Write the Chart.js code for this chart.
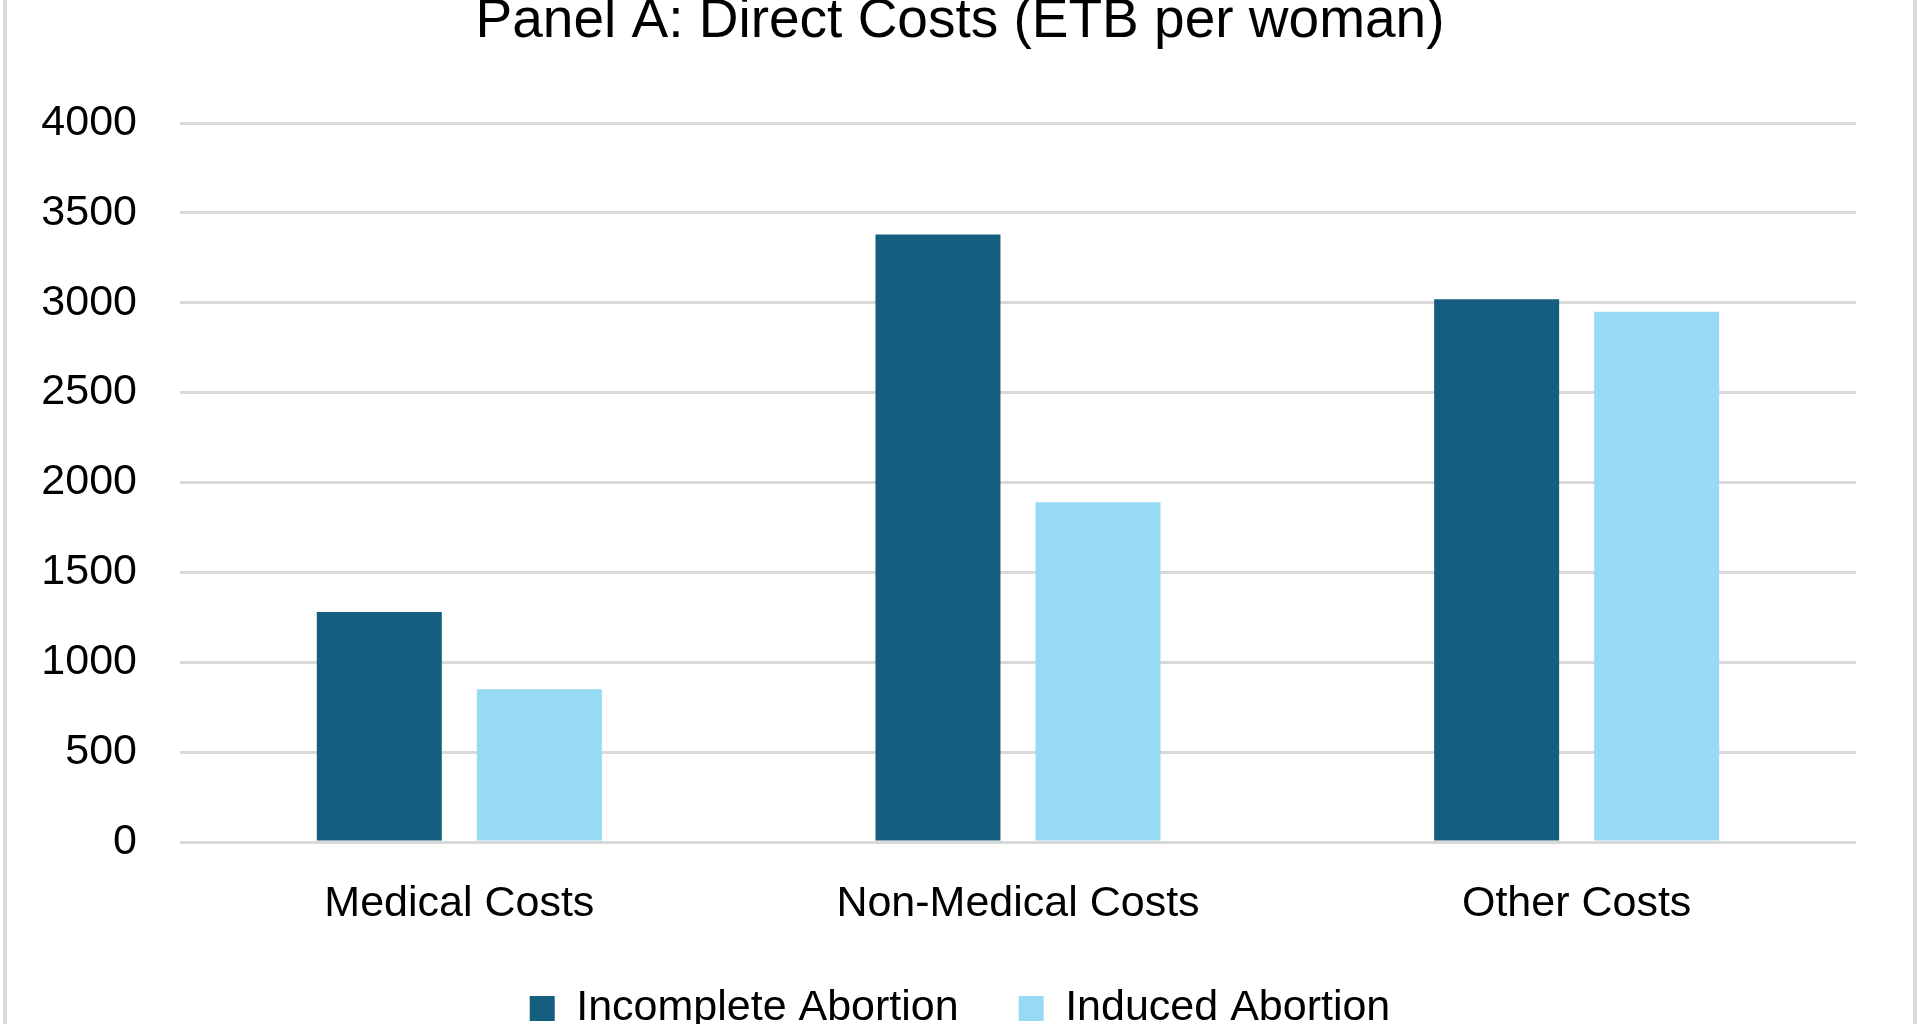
<!DOCTYPE html>
<html lang="en">
<head>
    <meta charset="UTF-8">
    <title>Panel A: Direct Costs (ETB per woman)</title>
    <script src="https://cdn.jsdelivr.net/npm/chart.js"></script>
    <style>
        html, body {
            margin: 0;
            padding: 0;
            width: 1920px;
            height: 1024px;
            overflow: hidden;
            background: #ffffff;
        }
        #frame {
            position: absolute;
            left: 3px;
            top: 0;
            width: 1906px;
            height: 1024px;
            border-left: 4px solid #d9d9d9;
            border-right: 4px solid #d9d9d9;
        }
        #chart-container {
            position: absolute;
            left: 0;
            top: -20px;
            width: 1920px;
            height: 1100px;
        }
    </style>
</head>
<body>
    <div id="frame"></div>
    <div id="chart-container">
        <canvas id="costChart"></canvas>
    </div>

    <script>
        const categories = ['Medical Costs', 'Non-Medical Costs', 'Other Costs'];
        const incompleteAbortion = [1280, 3380, 3020];
        const inducedAbortion = [850, 1890, 2950];
        const yTicks = [0, 500, 1000, 1500, 2000, 2500, 3000, 3500, 4000];

        const fontFamily = '"Liberation Sans", Arial, sans-serif';

        const ctx = document.getElementById('costChart').getContext('2d');
        new Chart(ctx, {
            type: 'bar',
            data: {
                labels: categories,
                datasets: [
                    {
                        label: 'Incomplete Abortion',
                        data: incompleteAbortion,
                        backgroundColor: '#155e80',
                        borderWidth: 0,
                        yAxisID: 'y'
                    },
                    {
                        label: 'Induced Abortion',
                        data: inducedAbortion,
                        backgroundColor: '#97daf5',
                        borderWidth: 0,
                        yAxisID: 'y'
                    }
                ]
            },
            options: {
                responsive: true,
                maintainAspectRatio: false,
                animation: false,
                categoryPercentage: 0.573,
                barPercentage: 0.781,
                layout: {
                    padding: { left: 40, right: 40, top: 0, bottom: 40 }
                },
                plugins: {
                    title: {
                        display: true,
                        text: 'Panel A: Direct Costs (ETB per woman)',
                        color: '#000000',
                        font: { family: fontFamily, size: 55, weight: 'normal' },
                        padding: { top: 9, bottom: 68 }
                    },
                    legend: {
                        position: 'bottom',
                        labels: {
                            color: '#000000',
                            font: { family: fontFamily, size: 43 },
                            boxWidth: 25,
                            boxHeight: 25,
                            padding: 60
                        }
                    },
                    tooltip: { enabled: false }
                },
                scales: {
                    x: {
                        afterFit(scale) {
                            scale.height = 85;
                        },
                        grid: { display: false },
                        border: { display: false },
                        ticks: {
                            color: '#000000',
                            font: { family: fontFamily, size: 43 },
                            padding: 28
                        }
                    },
                    y: {
                        min: 0,
                        max: 4000,
                        afterBuildTicks(scale) {
                            scale.ticks = yTicks.map(v => ({ value: v }));
                        },
                        afterFit(scale) {
                            scale.width = 140;
                        },
                        grid: {
                            color: '#d9d9d9',
                            lineWidth: 3,
                            drawTicks: false
                        },
                        border: { display: false },
                        ticks: {
                            color: '#000000',
                            font: { family: fontFamily, size: 43 },
                            padding: 43,
                            callback: v => String(v)
                        }
                    },
                    // empty strip on the right so the title sits in the middle
                    yRight: {
                        type: 'linear',
                        position: 'right',
                        min: 0,
                        max: 4000,
                        afterFit(scale) {
                            scale.width = 24;
                        },
                        grid: { display: false },
                        border: { display: false },
                        ticks: { display: false }
                    }
                }
            }
        });
    </script>
</body>
</html>
